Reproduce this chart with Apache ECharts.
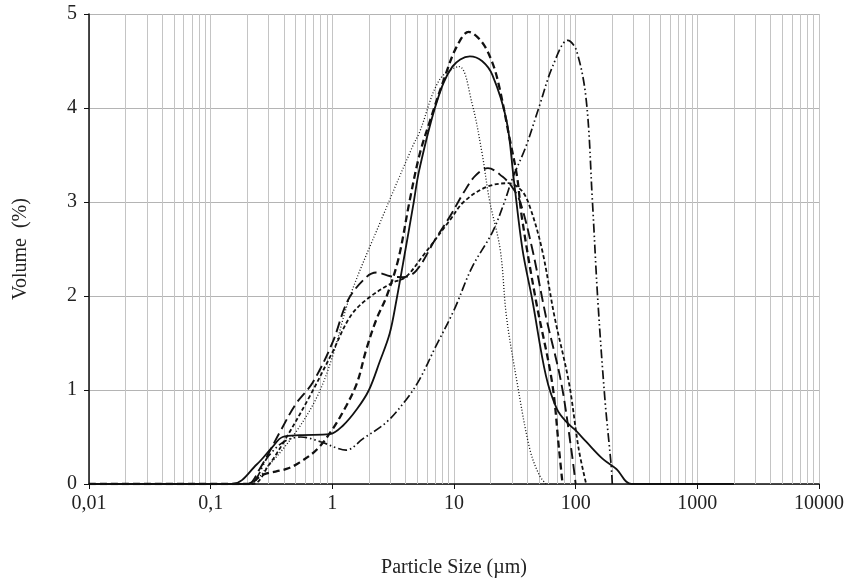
<!DOCTYPE html>
<html>
<head>
<meta charset="utf-8">
<script src="https://cdn.jsdelivr.net/npm/echarts@6/dist/echarts.min.js"></script>
<style>
    html, body { margin: 0; padding: 0; background: #fff; }
    #chart { width: 847px; height: 583px; }
</style>
</head>
<body>
<div id="chart"></div>
<script>
// x tick labels (decades) and y ticks
const decades = [0.01, 0.1, 1, 10, 100, 1000, 10000];
const yTicks = [0, 1, 2, 3, 4, 5];

// each series: [particle size (µm), volume (%)]
const solidLine = [
    [0.01, 0], [0.15, 0], [0.24, 0.21], [0.32, 0.39], [0.39, 0.5], [0.54, 0.52], [0.95, 0.53],
    [1.22, 0.62], [1.6, 0.8], [2.0, 1.0], [2.45, 1.3], [2.96, 1.6], [3.37, 1.96], [4.0, 2.5],
    [4.6, 2.95], [5.2, 3.35], [7.2, 4.06], [9.7, 4.44], [13.5, 4.55], [17, 4.5], [20.7, 4.35],
    [27, 3.87], [31, 3.24], [36.6, 2.49], [44, 1.96], [57, 1.15], [70, 0.8], [84, 0.66],
    [100, 0.57], [122, 0.45], [166, 0.27], [216, 0.16], [287, 0], [2000, 0]
];
const heavyDash = [
    [0.01, 0], [0.2, 0], [0.27, 0.1], [0.42, 0.16], [0.54, 0.23], [0.75, 0.37], [1.0, 0.58],
    [1.3, 0.83], [1.6, 1.08], [1.9, 1.43], [2.3, 1.75], [2.8, 2.0], [3.5, 2.4], [4.3, 3.0],
    [5.2, 3.5], [6.3, 3.85], [8.4, 4.33], [10.5, 4.65], [13.2, 4.81], [17, 4.7], [20.7, 4.48],
    [23.6, 4.22], [28.5, 3.69], [33, 3.27], [36, 2.85], [47, 1.96], [64, 1.08], [73, 0.37], [78, 0]
];
const dottedLine = [
    [0.01, 0], [0.2, 0], [0.3, 0.2], [0.5, 0.55], [0.75, 0.93], [1.0, 1.35], [1.4, 2.0],
    [2.6, 2.85], [4.6, 3.6], [5.2, 3.74], [7.6, 4.3], [11, 4.44], [14, 4.06], [17, 3.52],
    [19.5, 3.03], [24, 2.49], [27, 1.78], [33, 1.08], [42, 0.37], [50, 0.1], [57, 0]
];
const longDash = [
    [0.01, 0], [0.2, 0], [0.25, 0.15], [0.37, 0.55], [0.5, 0.85], [0.69, 1.08], [1.0, 1.5],
    [1.35, 1.96], [1.9, 2.2], [2.3, 2.25], [3.0, 2.21], [3.8, 2.2], [4.9, 2.27], [7, 2.6],
    [9.3, 2.85], [12, 3.1], [15, 3.28], [19, 3.36], [25, 3.27], [30, 3.16], [35, 3.0],
    [44, 2.5], [57, 1.78], [76, 1.08], [92, 0.37], [100, 0]
];
const denseDash = [
    [0.01, 0], [0.22, 0], [0.3, 0.2], [0.4, 0.45], [0.65, 0.93], [1.0, 1.4], [1.4, 1.78],
    [1.9, 1.96], [3.1, 2.14], [4.0, 2.2], [5.5, 2.42], [9.3, 2.81], [12, 3.0], [18.5, 3.16],
    [28, 3.2], [36, 3.12], [42, 2.95], [53, 2.49], [67, 1.78], [88, 1.08], [106, 0.37], [122, 0]
];
const dashDotDot = [
    [0.01, 0], [0.2, 0], [0.3, 0.3], [0.4, 0.45], [0.55, 0.5], [0.8, 0.45], [1.1, 0.38],
    [1.3, 0.36], [1.78, 0.48], [2.8, 0.66], [4.06, 0.9], [5.2, 1.11], [7, 1.45], [10, 1.85],
    [14, 2.3], [20.7, 2.68], [26, 3.0], [30, 3.24], [39, 3.59], [50, 4.01], [65, 4.45],
    [86, 4.72], [101, 4.62], [122, 4.09], [137, 3.03], [152, 1.96], [174, 0.9], [196, 0.19], [200, 0]
];

// minor grid lines 2..9 in every decade
let minorLines = [];
decades.slice(0, -1).forEach(d => {
    for (let m = 2; m <= 9; m++) minorLines.push({ xAxis: +(d * m).toPrecision(3) });
});

const font = 'Liberation Serif';
const black = '#111';
const textColor = '#222';

function makeLine(name, data, width, type, extra) {
    return Object.assign({
        name: name,
        type: 'line',
        data: data,
        smooth: 0.35,
        showSymbol: false,
        symbol: 'none',
        lineStyle: { color: black, width: width, type: type },
        z: 3
    }, extra || {});
}

let myChart = echarts.init(document.getElementById('chart'), null, { renderer: 'canvas' });
let option = {
    animation: false,
    backgroundColor: '#fff',
    grid: { left: 89, right: 27, top: 14, bottom: 98 },
    xAxis: {
        type: 'log',
        logBase: 10,
        min: decades[0],
        max: decades[decades.length - 1],
        name: 'Particle Size (µm)',
        nameLocation: 'middle',
        nameGap: 74,
        nameTextStyle: { fontFamily: font, fontSize: 20, color: textColor },
        axisLine: { onZero: false, lineStyle: { color: black, width: 1.5 } },
        axisTick: { show: true, length: 5, lineStyle: { color: black } },
        axisLabel: {
            fontFamily: font, fontSize: 20, color: textColor, margin: 10,
            formatter: v => String(v).replace('.', ',')
        },
        splitLine: { show: true, lineStyle: { color: '#c4c4c4', width: 1 } }
    },
    yAxis: {
        type: 'value',
        min: yTicks[0],
        max: yTicks[yTicks.length - 1],
        interval: 1,
        name: 'Volume  (%)',
        nameLocation: 'middle',
        nameGap: 58,
        nameTextStyle: { fontFamily: font, fontSize: 20, color: textColor },
        axisLine: { show: true, lineStyle: { color: black, width: 1.5 } },
        axisTick: { show: true, length: 5, lineStyle: { color: black } },
        axisLabel: { fontFamily: font, fontSize: 20, color: textColor, margin: 12 },
        splitLine: { show: true, lineStyle: { color: '#b4b4b4', width: 1 } }
    },
    series: [
        makeLine('solid', solidLine, 1.8, 'solid', {
            markLine: {
                silent: true,
                symbol: ['none', 'none'],
                label: { show: false },
                lineStyle: { color: '#c4c4c4', width: 1, type: 'solid' },
                data: minorLines,
                z: 1
            }
        }),
        makeLine('heavy dash', heavyDash, 2.3, [7, 4]),
        makeLine('dotted', dottedLine, 1.3, [1, 2]),
        makeLine('long dash', longDash, 1.9, [11, 5]),
        makeLine('dense dash', denseDash, 1.8, [4, 2.5]),
        makeLine('dash dot dot', dashDotDot, 1.7, [9, 3, 1.5, 3, 1.5, 3])
    ]
};
myChart.setOption(option);
</script>
</body>
</html>
